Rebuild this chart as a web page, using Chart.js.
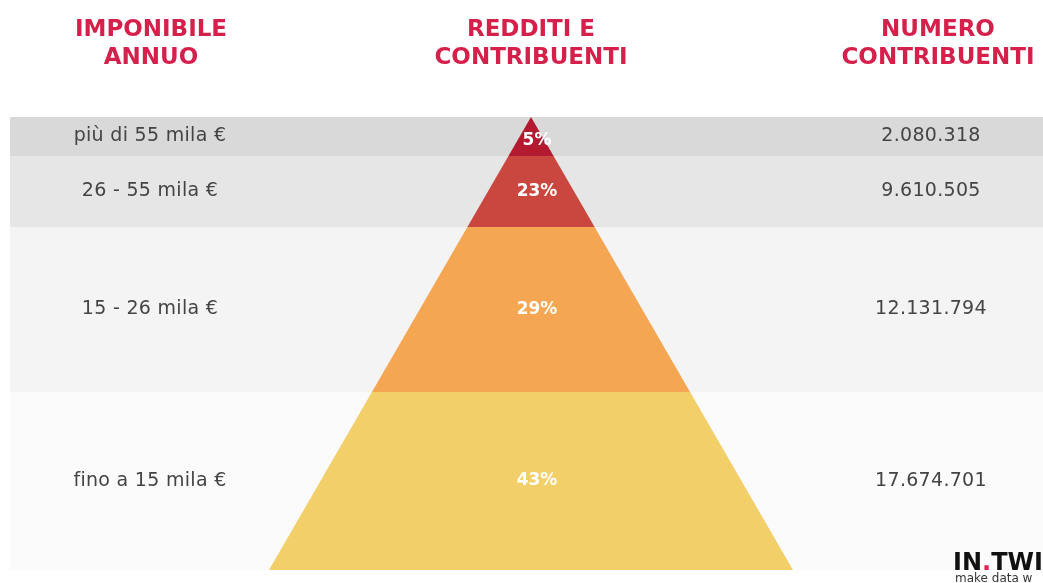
<!DOCTYPE html>
<html>
<head>
<meta charset="utf-8">
<script src="https://cdn.jsdelivr.net/npm/chart.js@4"></script>
<style>
  body { margin: 0; background: #fff; }
</style>
</head>
<body>
<canvas id="chart" width="1043" height="583"></canvas>
<script>
// rows go from the top of the pyramid down
const incomeBands = ["più di 55 mila €", "26 - 55 mila €", "15 - 26 mila €", "fino a 15 mila €"];
const incomeShare = [5, 23, 29, 43];
const taxpayers = [2080318, 9610505, 12131794, 17674701];
const rowWeights = [39, 71, 165, 178]; // relative row heights as drawn

const headers = [
  ["IMPONIBILE", "ANNUO"],
  ["REDDITI E", "CONTRIBUENTI"],
  ["NUMERO", "CONTRIBUENTI"],
];

const layerColors = ["#b3192f", "#c9473f", "#f5a653", "#f2cf69"];
const bandColors = ["#d9d9d9", "#e6e6e6", "#f4f4f4", "#fbfbfb"];

const total = rowWeights.reduce((a, b) => a + b, 0);
const halfBase = 262;
const bandLeft = -521;
const bandRight = 520;

// top/bottom value of each row (0 = pyramid base, total = apex)
const rows = [];
let rowTop = total;
rowWeights.forEach((w) => {
  rows.push({ top: rowTop, bottom: rowTop - w });
  rowTop -= w;
});

const halfWidth = (v) => halfBase * (1 - v / total);

function fmt(n) {
  return String(n).replace(/\B(?=(\d{3})+(?!\d))/g, ".");
}

const datasets = [];
rows.forEach((r, i) => {
  datasets.push({
    data: [
      { x: bandLeft, y: r.top }, { x: bandRight, y: r.top },
      { x: bandRight, y: r.bottom }, { x: bandLeft, y: r.bottom },
      { x: bandLeft, y: r.top },
    ],
    showLine: true,
    fill: "shape",
    backgroundColor: bandColors[i],
    borderWidth: 0,
    pointRadius: 0,
    order: 2,
  });
});
rows.forEach((r, i) => {
  const ht = halfWidth(r.top);
  const hb = halfWidth(r.bottom);
  datasets.push({
    data: [
      { x: -ht, y: r.top }, { x: ht, y: r.top },
      { x: hb, y: r.bottom }, { x: -hb, y: r.bottom },
      { x: -ht, y: r.top },
    ],
    showLine: true,
    fill: "shape",
    backgroundColor: layerColors[i],
    borderWidth: 0,
    pointRadius: 0,
    order: 1,
  });
});

const textPlugin = {
  id: "pyramidText",
  afterDatasetsDraw(chart) {
    const ctx = chart.ctx;
    const xs = chart.scales.x;
    const ys = chart.scales.y;
    ctx.save();
    ctx.textAlign = "center";
    ctx.textBaseline = "middle";

    rows.forEach((r, i) => {
      const y = ys.getPixelForValue((r.top + r.bottom) / 2);
      ctx.fillStyle = "#444";
      ctx.font = "19px 'DejaVu Sans'";
      ctx.letterSpacing = "0.3px";
      ctx.fillText(incomeBands[i], xs.getPixelForValue(-381), y);
      ctx.fillText(fmt(taxpayers[i]), xs.getPixelForValue(400), y);

      ctx.fillStyle = "#fff";
      ctx.letterSpacing = "0px";
      ctx.font = "bold 17px 'DejaVu Sans'";
      const py = i === 0 ? y + 4 : y;
      ctx.fillText(incomeShare[i] + "%", xs.getPixelForValue(6), py);
    });

    // column headers
    const headX = [-380, 0, 407];
    ctx.fillStyle = "#d4204b";
    ctx.font = "bold 23px 'DejaVu Sans'";
    headers.forEach((lines, i) => {
      lines.forEach((t, j) => {
        ctx.fillText(t, xs.getPixelForValue(headX[i]), 30 + j * 28);
      });
    });

    // logo
    ctx.textAlign = "left";
    ctx.textBaseline = "alphabetic";
    ctx.font = "bold 24px 'DejaVu Sans'";
    let lx = 953;
    ctx.fillStyle = "#111";
    ctx.fillText("IN", lx, 570);
    lx += ctx.measureText("IN").width;
    ctx.fillStyle = "#e0214f";
    ctx.fillText(".", lx, 570);
    lx += ctx.measureText(".").width;
    ctx.fillStyle = "#111";
    ctx.fillText("TWI", lx, 570);
    ctx.font = "12px 'DejaVu Sans'";
    ctx.fillStyle = "#333";
    ctx.fillText("make data w", 955, 582);
    ctx.restore();
  },
};

new Chart(document.getElementById("chart"), {
  type: "scatter",
  data: { datasets: datasets },
  options: {
    responsive: false,
    animation: false,
    layout: { padding: 0 },
    elements: { line: { tension: 0 } },
    plugins: {
      legend: { display: false },
      tooltip: { enabled: false },
    },
    scales: {
      x: { type: "linear", min: -531, max: 512, display: false },
      y: { type: "linear", min: -13, max: total + 117, display: false },
    },
  },
  plugins: [textPlugin],
});
</script>
</body>
</html>
